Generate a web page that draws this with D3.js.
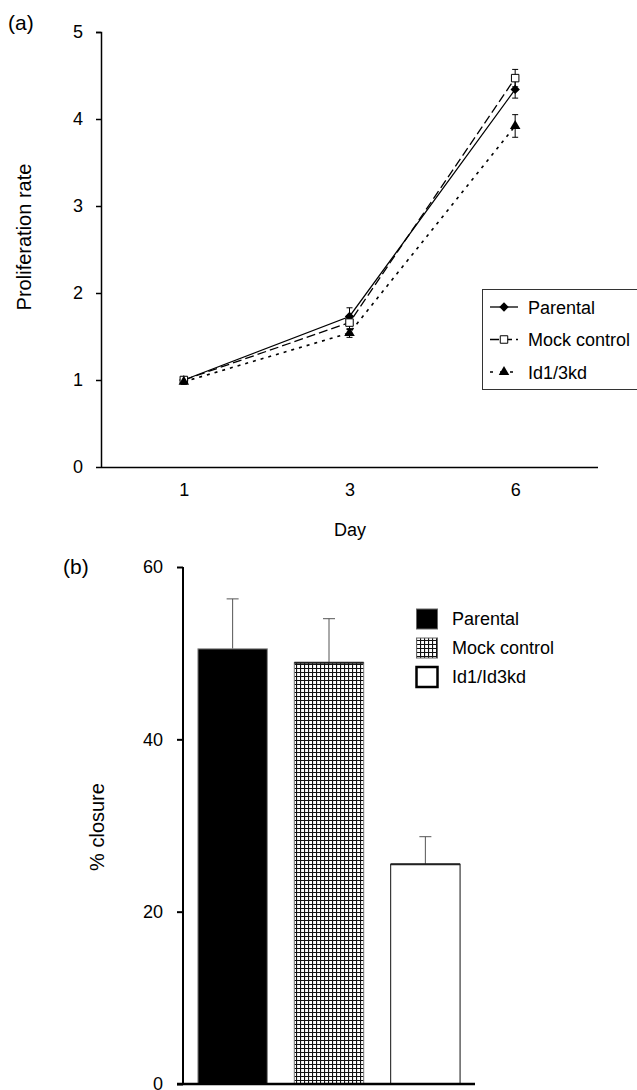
<!DOCTYPE html>
<html><head><meta charset="utf-8">
<script src="https://cdn.jsdelivr.net/npm/d3@7/dist/d3.min.js"></script>
<style>body{margin:0;background:#fff}svg{display:block;font-family:"Liberation Sans",Arial,sans-serif}</style>
</head><body>
<script>
// ---- Data (a) ----
const days = ["1", "3", "6"];
const parental = [1.0, 1.73, 4.34];
const parentalErr = [0.03, 0.1, 0.1];
const mock = [1.0, 1.66, 4.47];
const mockErr = [0.03, 0.08, 0.1];
const kd = [0.98, 1.54, 3.92];
const kdErr = [0.03, 0.05, 0.13];
const seriesNames = ["Parental", "Mock control", "Id1/3kd"];
const yTicksA = [0, 1, 2, 3, 4, 5];
// ---- Data (b) ----
const barGroups = ["Parental", "Mock control", "Id1/Id3kd"];
const closure = [50.5, 48.9, 25.5];
const closureErr = [5.8, 5.1, 3.2];
const yTicksB = [0, 20, 40, 60];

const W = 637, H = 1090;
const svg = d3.select("body").append("svg").attr("width", W).attr("height", H);

const defs = svg.append("defs");
const pat = defs.append("pattern").attr("id", "grid").attr("patternUnits", "userSpaceOnUse")
  .attr("width", 4).attr("height", 4);
pat.append("rect").attr("width", 4).attr("height", 4).attr("fill", "#fff");
pat.append("path").attr("d", "M0,0.5H4M0.5,0V4").attr("stroke", "#111").attr("stroke-width", 1.2);

// ================= (a) =================
const xA = d3.scalePoint().domain(days).range([101, 598]).padding(0.5);
const yA = d3.scaleLinear().domain([0, 5]).range([467, 32]);

const gA = svg.append("g");
gA.append("text").attr("x", 8).attr("y", 30).attr("font-size", 21).text("(a)");

const yAxA = gA.append("g").attr("transform", "translate(101,0)")
  .call(d3.axisLeft(yA).tickValues(yTicksA).tickSize(5).tickPadding(13).tickFormat(d3.format("d")));
yAxA.select(".domain").attr("stroke", "#000").attr("stroke-width", 1.5).attr("d", "M-5,32.5H0.5V467");
yAxA.selectAll(".tick line").attr("stroke-width", 1.5);
yAxA.selectAll("text").attr("font-size", 18).attr("font-family", "Liberation Sans, Arial, sans-serif");

const xAxA = gA.append("g").attr("transform", "translate(0,467)")
  .call(d3.axisBottom(xA).tickSize(0).tickPadding(16));
xAxA.select(".domain").attr("stroke", "#000").attr("stroke-width", 1.5).attr("d", "M101,0.5H598");
xAxA.selectAll("text").attr("font-size", 18).attr("font-family", "Liberation Sans, Arial, sans-serif");

gA.append("text").attr("x", 350).attr("y", 536).attr("text-anchor", "middle").attr("font-size", 18).text("Day");
gA.append("text").attr("transform", "translate(31,237) rotate(-90)").attr("text-anchor", "middle")
  .attr("font-size", 20).text("Proliferation rate");

const seriesA = [
  {name: seriesNames[0], v: parental, e: parentalErr, dash: null, marker: "diamond"},
  {name: seriesNames[1], v: mock, e: mockErr, dash: "9,4", marker: "square"},
  {name: seriesNames[2], v: kd, e: kdErr, dash: "3,5", marker: "triangle"}
];
const line = d3.line().x((d, i) => xA(days[i])).y(d => yA(d));

function drawMarker(g, type, x, y) {
  if (type === "diamond") {
    g.append("path").attr("d", d3.symbol().type(d3.symbolSquare).size(44)())
      .attr("transform", `translate(${x},${y}) rotate(45)`).attr("fill", "#000");
  } else if (type === "square") {
    g.append("path").attr("d", d3.symbol().type(d3.symbolSquare).size(56)())
      .attr("transform", `translate(${x},${y})`).attr("fill", "#fff").attr("stroke", "#000").attr("stroke-width", 1);
  } else {
    g.append("path").attr("d", d3.symbol().type(d3.symbolTriangle).size(48)())
      .attr("transform", `translate(${x},${y})`).attr("fill", "#000");
  }
}

seriesA.forEach(s => {
  gA.append("path").datum(s.v).attr("d", line).attr("fill", "none").attr("stroke", "#000")
    .attr("stroke-width", s.marker === "triangle" ? 1.6 : 1.3).attr("stroke-dasharray", s.dash);
  s.v.forEach((v, i) => {
    const x = xA(days[i]);
    gA.append("path").attr("d", `M${x},${yA(v - s.e[i])}V${yA(v + s.e[i])}M${x - 3},${yA(v + s.e[i])}H${x + 3}M${x - 3},${yA(v - s.e[i])}H${x + 3}`)
      .attr("stroke", "#000").attr("stroke-width", 1).attr("fill", "none");
  });
});
seriesA.forEach(s => s.v.forEach((v, i) => drawMarker(gA, s.marker, xA(days[i]), yA(v))));

// legend (a)
const legA = gA.append("g");
legA.append("rect").attr("x", 482.5).attr("y", 289.5).attr("width", 160).attr("height", 100)
  .attr("fill", "#fff").attr("stroke", "#333").attr("stroke-width", 1);
seriesA.forEach((s, i) => {
  const y = 307 + i * 32.5;
  legA.append("line").attr("x1", 490).attr("x2", 518).attr("y1", y).attr("y2", y)
    .attr("stroke", "#000").attr("stroke-width", i === 2 ? 1.6 : 1.3).attr("stroke-dasharray", s.dash ? (i === 1 ? "9,4" : "3,7") : null);
  drawMarker(legA, s.marker, 504, y);
  legA.append("text").attr("x", 528).attr("y", y + 6.5).attr("font-size", 18).text(s.name);
});

// ================= (b) =================
const xB = d3.scaleBand().domain(barGroups).range([183, 475]).paddingInner(0.28).paddingOuter(0.155);
const yB = d3.scaleLinear().domain([0, 60]).range([1084, 567]);
const gB = svg.append("g");
gB.append("text").attr("x", 63).attr("y", 574).attr("font-size", 21).text("(b)");
gB.append("text").attr("transform", "translate(104,827) rotate(-90)").attr("text-anchor", "middle")
  .attr("font-size", 20).text("% closure");

const fills = ["#000", "url(#grid)", "#fff"];
const strokes = ["#888", "#777", "#111"];
barGroups.forEach((g, i) => {
  const x = xB(g), w = xB.bandwidth(), y = yB(closure[i]);
  const cx = x + w / 2;
  gB.append("path").attr("d", `M${cx},${y}V${yB(closure[i] + closureErr[i])}M${cx - 6},${yB(closure[i] + closureErr[i])}H${cx + 6}`)
    .attr("stroke", "#555").attr("stroke-width", 1).attr("fill", "none");
  gB.append("rect").attr("x", x).attr("y", y).attr("width", w).attr("height", yB(0) - y)
    .attr("fill", fills[i]).attr("stroke", strokes[i]).attr("stroke-width", 1);
  if (i > 0) gB.append("line").attr("x1", x).attr("x2", x + w).attr("y1", y).attr("y2", y)
    .attr("stroke", "#222").attr("stroke-width", 2);
});

const yAxB = gB.append("g").attr("transform", "translate(183,0)")
  .call(d3.axisLeft(yB).tickValues(yTicksB).tickSize(6).tickPadding(14).tickFormat(d3.format("d")));
yAxB.select(".domain").attr("stroke", "#000").attr("stroke-width", 2).attr("d", "M0,567V1084");
yAxB.selectAll(".tick line").attr("stroke-width", 2);
yAxB.selectAll("text").attr("font-size", 18).attr("font-family", "Liberation Sans, Arial, sans-serif");
gB.append("line").attr("x1", 177).attr("x2", 475).attr("y1", 1084).attr("y2", 1084)
  .attr("stroke", "#000").attr("stroke-width", 2.5);

// legend (b)
const legB = gB.append("g");
barGroups.forEach((g, i) => {
  const y = 609 + i * 29;
  legB.append("rect").attr("x", 416.5).attr("y", y).attr("width", 21).attr("height", 20)
    .attr("fill", fills[i]).attr("stroke", i === 2 ? "#000" : "#666").attr("stroke-width", i === 2 ? 2.5 : 1);
  legB.append("text").attr("x", 452).attr("y", y + 16).attr("font-size", 18).text(g);
});
</script>
</body></html>
